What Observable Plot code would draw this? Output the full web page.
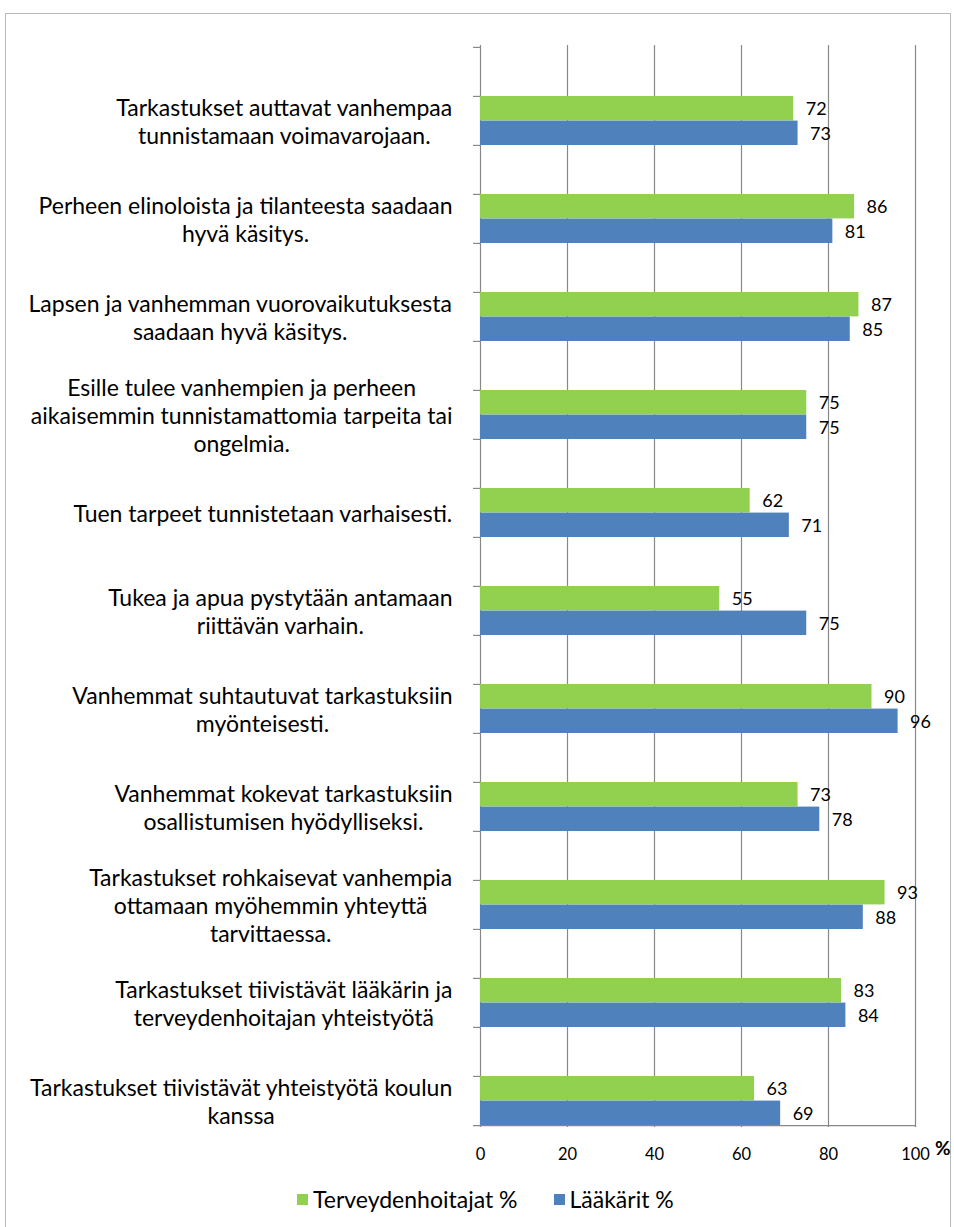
<!DOCTYPE html>
<html><head><meta charset="utf-8">
<script src="https://cdn.jsdelivr.net/npm/d3@7"></script>
<script src="https://cdn.jsdelivr.net/npm/@observablehq/plot@0.6"></script>
<style>
body{margin:0;background:#fff;font-family:Lato,sans-serif;}
#frame{position:absolute;left:5px;top:13px;width:946px;height:1300px;border:1px solid #b8b8b8;box-sizing:border-box;}
#chart{position:absolute;left:0;top:0;}
#legend{position:absolute;left:297px;top:1185px;display:flex;align-items:center;font-size:23px;color:#000;font-family:Lato,sans-serif;}
#legend .item{display:flex;align-items:center;margin-right:36px;}
#legend .sw{width:11px;height:11px;display:inline-block;margin-right:5px;}
</style></head><body>
<div id="frame"></div><div id="chart"></div><div id="legend"></div>
<script>
const categories = [
  "Tarkastukset auttavat vanhempaa\ntunnistamaan voimavarojaan.",
  "Perheen elinoloista ja tilanteesta saadaan\nhyvä käsitys.",
  "Lapsen ja vanhemman vuorovaikutuksesta\nsaadaan hyvä käsitys.",
  "Esille tulee vanhempien ja perheen\naikaisemmin tunnistamattomia tarpeita tai\nongelmia.",
  "Tuen tarpeet tunnistetaan varhaisesti.",
  "Tukea ja apua pystytään antamaan\nriittävän varhain.",
  "Vanhemmat suhtautuvat tarkastuksiin\nmyönteisesti.",
  "Vanhemmat kokevat tarkastuksiin\nosallistumisen hyödylliseksi.",
  "Tarkastukset rohkaisevat vanhempia\nottamaan myöhemmin yhteyttä\ntarvittaessa.",
  "Tarkastukset tiivistävät lääkärin ja\nterveydenhoitajan yhteistyötä",
  "Tarkastukset tiivistävät yhteistyötä koulun\nkanssa"
];
const terveydenhoitajat = [72, 86, 87, 75, 62, 55, 90, 73, 93, 83, 63];
const laakarit = [73, 81, 85, 75, 71, 75, 96, 78, 88, 84, 69];
const seriesNames = ["Terveydenhoitajat %", "Lääkärit %"];
const seriesColors = ["#92d050", "#4f81bd"];
const xTicks = [0, 20, 40, 60, 80, 100];
const unitLabel = "%";

const W = 954, H = 1180, MT = 45, MB = 53, ML = 480, MR = 39;
const labelFont = 23, valueFont = 18, tickFont = 16.5;
const gridColor = "#888888";

const rows = categories.map((c, i) => ({key: "bar" + i, label: c, t: terveydenhoitajat[i], l: laakarit[i]}));
const yDomain = categories.flatMap((c, i) => ["gap" + i, "bar" + i]);
const bw = (H - MT - MB) / yDomain.length;

const ctx = document.createElement("canvas").getContext("2d");
ctx.font = `${labelFont}px Lato`;
const blockWidth = (s) => Math.max(...s.split("\n").map(t => ctx.measureText(t).width));

const labelMarks = rows.map(r => Plot.text([r], {
  y: "key", x: () => 0, text: "label",
  textAnchor: "middle", lineAnchor: "middle", lineHeight: 28 / labelFont,
  fontSize: labelFont, fill: "#000",
  dx: -(28 + blockWidth(r.label) / 2)
}));

const chart = Plot.plot({
  width: W, height: H,
  marginTop: MT, marginBottom: MB, marginLeft: ML, marginRight: MR,
  style: {fontFamily: "Lato, sans-serif", color: "#000", background: "transparent"},
  x: {domain: [0, 100], ticks: xTicks, label: null},
  y: {type: "band", domain: yDomain, padding: 0, axis: null, label: null},
  marks: [
    Plot.ruleX(xTicks, {stroke: gridColor, strokeWidth: 1.2}),
    Plot.axisY(yDomain, {anchor: "left", tickSize: 7, tickFormat: () => "", label: null, dy: -bw / 2, stroke: gridColor, strokeWidth: 1.2}),
    Plot.ruleY([yDomain[yDomain.length - 1]], {dy: bw / 2, insetLeft: -7, stroke: gridColor, strokeWidth: 1.2}),
    Plot.barX(rows, {y: "key", x: "t", fill: seriesColors[0], insetBottom: bw / 2}),
    Plot.barX(rows, {y: "key", x: "l", fill: seriesColors[1], insetTop: bw / 2}),
    Plot.text(rows, {y: "key", x: "t", text: "t", dx: 12, dy: -bw / 4 + 1, textAnchor: "start", fontSize: valueFont, fill: "#000"}),
    Plot.text(rows, {y: "key", x: "l", text: "l", dx: 12, dy: bw / 4 + 1, textAnchor: "start", fontSize: valueFont, fill: "#000"}),
    Plot.axisX(xTicks, {anchor: "bottom", tickSize: 0, tickPadding: 21, fontSize: tickFont, label: null}),
    Plot.text([unitLabel], {frameAnchor: "bottom-right", dx: 35, dy: 27, fontWeight: "bold", fontSize: 19, fill: "#000"}),
    ...labelMarks
  ]
});
document.getElementById("chart").appendChild(chart);

const legend = document.getElementById("legend");
seriesNames.forEach((n, i) => {
  const item = document.createElement("div");
  item.className = "item";
  const sw = document.createElement("span");
  sw.className = "sw"; sw.style.background = seriesColors[i];
  item.appendChild(sw);
  item.appendChild(document.createTextNode(n));
  legend.appendChild(item);
});
</script>
</body></html>
